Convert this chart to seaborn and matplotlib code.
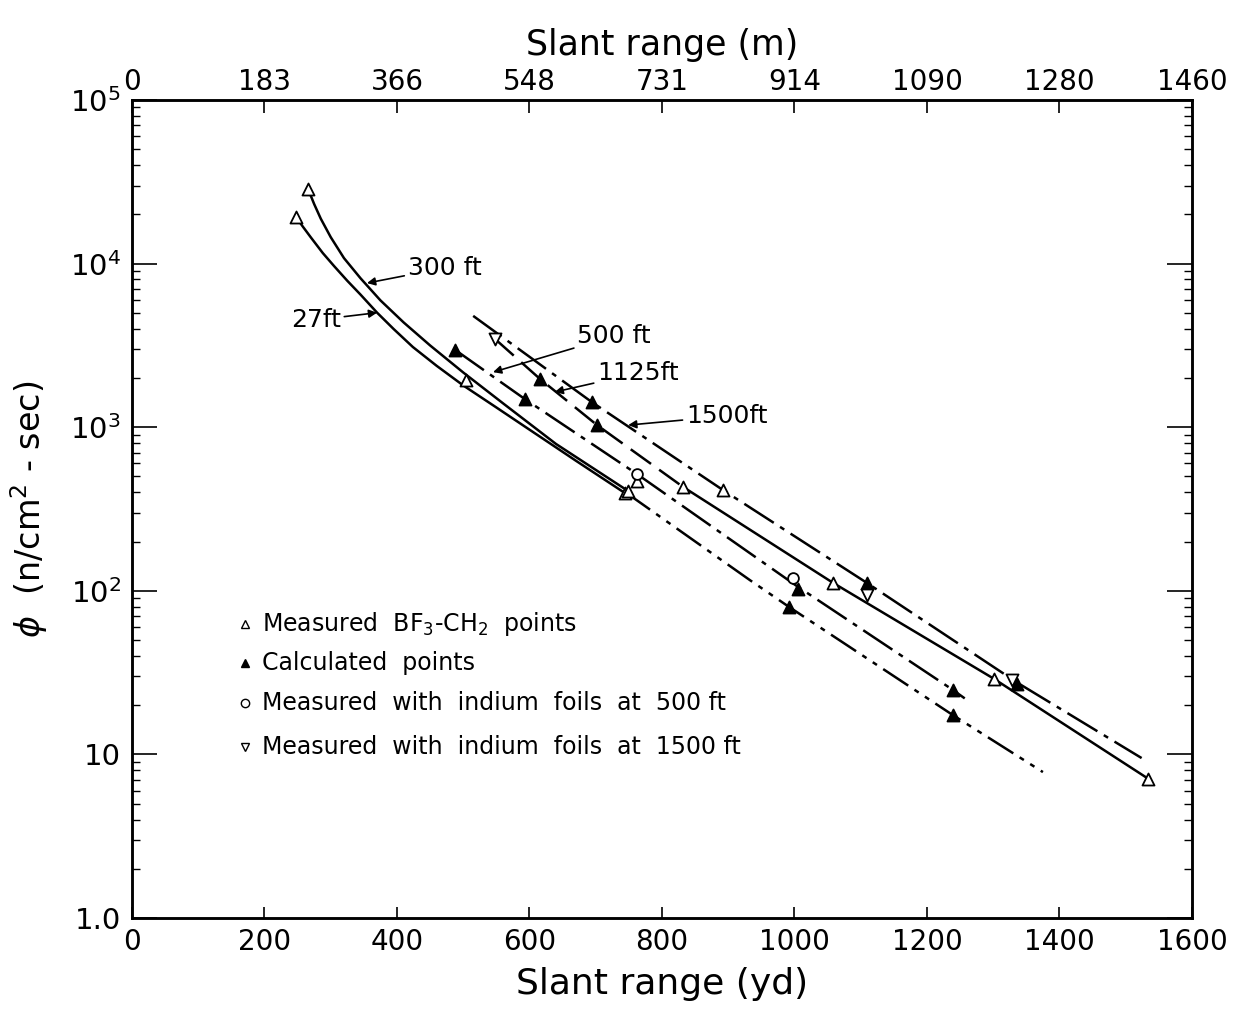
import numpy as np
import pandas as pd
import matplotlib
matplotlib.use('Agg')
import matplotlib.pyplot as plt
from matplotlib.ticker import FixedLocator, FixedFormatter, LogLocator, NullFormatter
import seaborn as sns

# curvas (jardas, n/cm2-sec)
x_27ft = [247.5, 258, 270, 288, 305, 325, 345, 370, 395, 424, 460, 500, 550, 600, 670, 744]
y_27ft = [19300, 16800, 14450, 11600, 9660, 7850, 6460, 5010, 3980, 3090, 2370, 1800, 1320, 966, 624, 396]
x_300ft = [265.7, 275, 285, 300, 320, 345, 375, 410, 450, 500, 560, 640, 749]
y_300ft = [28600, 23100, 18800, 14500, 10800, 8130, 5960, 4370, 3160, 2160, 1400, 790, 407]
x_ext = [745, 933, 992, 1239, 1375]
y_ext = [400, 116, 79.6, 17.4, 7.8]
x_500ft = [488, 593, 762, 1002, 1239, 1257]
y_500ft = [2965, 1486, 518, 108, 24.8, 22]
x_1125ft = [548, 616, 702, 832, 1058, 1301, 1534]
y_1125ft = [3460, 1970, 1030, 431, 112, 29, 7.1]
x_1500ft = [515, 694, 892, 1109, 1336, 1524]
y_1500ft = [4790, 1425, 413, 112, 27.5, 9.5]

# pontos
x_bf3 = [247.5, 265.7, 504, 744, 749, 762, 832, 892, 1058, 1301, 1534]
y_bf3 = [19300, 28600, 1945, 396, 407, 469, 431, 413, 112, 29, 7.1]
x_calc = [488, 593, 616, 694, 702, 992, 1005, 1109, 1239, 1239, 1336]
y_calc = [2965, 1486, 1970, 1425, 1030, 79.6, 103, 112, 24.8, 17.4, 26.9]
x_in500 = [762, 998]
y_in500 = [518, 120]
x_in1500 = [548, 1109, 1328]
y_in1500 = [3460, 94, 28.5]

yd_ticks = [0, 200, 400, 600, 800, 1000, 1200, 1400, 1600]
m_labels = ['0', '183', '366', '548', '731', '914', '1090', '1280', '1460']
y_ticks = [1, 10, 100, 1000, 10000, 100000]
y_labels = ['1.0', '10', '$10^2$', '$10^3$', '$10^4$', '$10^5$']

legend_labels = ['Measured  BF$_3$-CH$_2$  points', 'Calculated  points',
                 'Measured  with  indium  foils  at  500 ft',
                 'Measured  with  indium  foils  at  1500 ft']

sns.set_style('ticks')
plt.rcParams['font.family'] = ['DejaVu Sans']
plt.rcParams['mathtext.fontset'] = 'dejavusans'
for k in ['text.color', 'axes.labelcolor', 'xtick.color', 'ytick.color', 'axes.edgecolor']:
    plt.rcParams[k] = 'black'

fig = plt.figure(figsize=(12.37, 10.18), dpi=100)
ax = fig.add_axes([0.1067, 0.0982, 0.8569, 0.8036])
ax.set_yscale('log')

lw = 1.8
dashdot = (0, (14, 3, 2, 3))
dashdotdot = (0, (12, 3, 2, 3, 2, 3))

sns.lineplot(x=x_27ft, y=y_27ft, ax=ax, color='black', lw=lw, estimator=None, sort=False)
sns.lineplot(x=x_300ft, y=y_300ft, ax=ax, color='black', lw=lw, estimator=None, sort=False)
sns.lineplot(x=x_ext, y=y_ext, ax=ax, color='black', lw=lw, linestyle=dashdotdot, estimator=None, sort=False)
sns.lineplot(x=x_500ft, y=y_500ft, ax=ax, color='black', lw=lw, linestyle=dashdot, estimator=None, sort=False)
sns.lineplot(x=x_1125ft[:4], y=y_1125ft[:4], ax=ax, color='black', lw=lw, linestyle=(0, (10, 4)), estimator=None, sort=False)
sns.lineplot(x=x_1125ft[3:], y=y_1125ft[3:], ax=ax, color='black', lw=lw, estimator=None, sort=False)
sns.lineplot(x=x_1500ft, y=y_1500ft, ax=ax, color='black', lw=lw, linestyle=dashdot, estimator=None, sort=False)

ms = 75
sns.scatterplot(x=x_bf3, y=y_bf3, ax=ax, marker='^', s=ms, facecolor='white', edgecolor='black', linewidth=1.3, zorder=5)
sns.scatterplot(x=x_calc, y=y_calc, ax=ax, marker='^', s=ms, color='black', edgecolor='black', linewidth=1.3, zorder=5)
sns.scatterplot(x=x_in500, y=y_in500, ax=ax, marker='o', s=60, facecolor='white', edgecolor='black', linewidth=1.3, zorder=5)
sns.scatterplot(x=x_in1500, y=y_in1500, ax=ax, marker='v', s=ms, facecolor='white', edgecolor='black', linewidth=1.3, zorder=5)

# rotulos das curvas
seta = dict(arrowstyle='-|>', color='black', lw=1.2, mutation_scale=12, shrinkA=0, shrinkB=0)
ax.annotate('300 ft', xy=(354.7, 7600), xytext=(416, 9400), ha='left', va='center', fontsize=18, arrowprops=seta)
ax.annotate('27ft', xy=(370, 5010), xytext=(240, 4520), ha='left', va='center', fontsize=18, arrowprops=seta)
ax.annotate('500 ft', xy=(545, 2170), xytext=(672, 3600), ha='left', va='center', fontsize=18, arrowprops=seta)
ax.annotate('1125ft', xy=(638, 1640), xytext=(702, 2140), ha='left', va='center', fontsize=18, arrowprops=seta)
ax.annotate('1500ft', xy=(749, 1030), xytext=(836, 1170), ha='left', va='center', fontsize=18, arrowprops=seta)

# legenda manual
leg_y = [0.359, 0.312, 0.263, 0.209]
leg_m = [dict(marker='^', mfc='white'), dict(marker='^', mfc='black'),
         dict(marker='o', mfc='white'), dict(marker='v', mfc='white')]
for yy, lab, mk in zip(leg_y, legend_labels, leg_m):
    ax.plot([0.107], [yy], transform=ax.transAxes, color='black', ms=6, mew=1, ls='none', **mk)
    ax.text(0.123, yy, lab, transform=ax.transAxes, fontsize=17, va='center', ha='left')

ax.set_xlim(0, 1600)
ax.set_ylim(1, 1e5)
ax.xaxis.set_major_locator(FixedLocator(yd_ticks))
ax.set_xticklabels([str(t) for t in yd_ticks], fontsize=20)
ax.yaxis.set_major_locator(FixedLocator(y_ticks))
ax.yaxis.set_major_formatter(FixedFormatter(y_labels))
ax.yaxis.set_minor_locator(LogLocator(base=10, subs=np.arange(2, 10)))
ax.yaxis.set_minor_formatter(NullFormatter())
for lab in ax.get_yticklabels():
    lab.set_fontsize(21)

ax.tick_params(axis='x', which='major', direction='in', length=8, width=1.2, pad=7, top=False)
ax.tick_params(axis='y', which='major', direction='in', length=18, width=1.2, pad=8, right=True)
ax.tick_params(axis='y', which='minor', direction='in', length=6, width=1.0, right=True)
for s in ax.spines.values():
    s.set_linewidth(1.8)

ax2 = ax.twiny()
ax2.set_xlim(0, 1600)
ax2.xaxis.set_major_locator(FixedLocator(yd_ticks))
ax2.set_xticklabels(m_labels, fontsize=20)
ax2.tick_params(axis='x', direction='in', length=9, width=1.2, pad=3)
ax2.set_xlabel('Slant range (m)', fontsize=25, labelpad=9)
for s in ax2.spines.values():
    s.set_linewidth(1.8)

ax.set_xlabel('Slant range (yd)', fontsize=26, labelpad=8)
ax.set_ylabel(r'$\phi$  (n/cm$^2$ - sec)', fontsize=24, labelpad=14)

fig.savefig('out.png', dpi=100)
